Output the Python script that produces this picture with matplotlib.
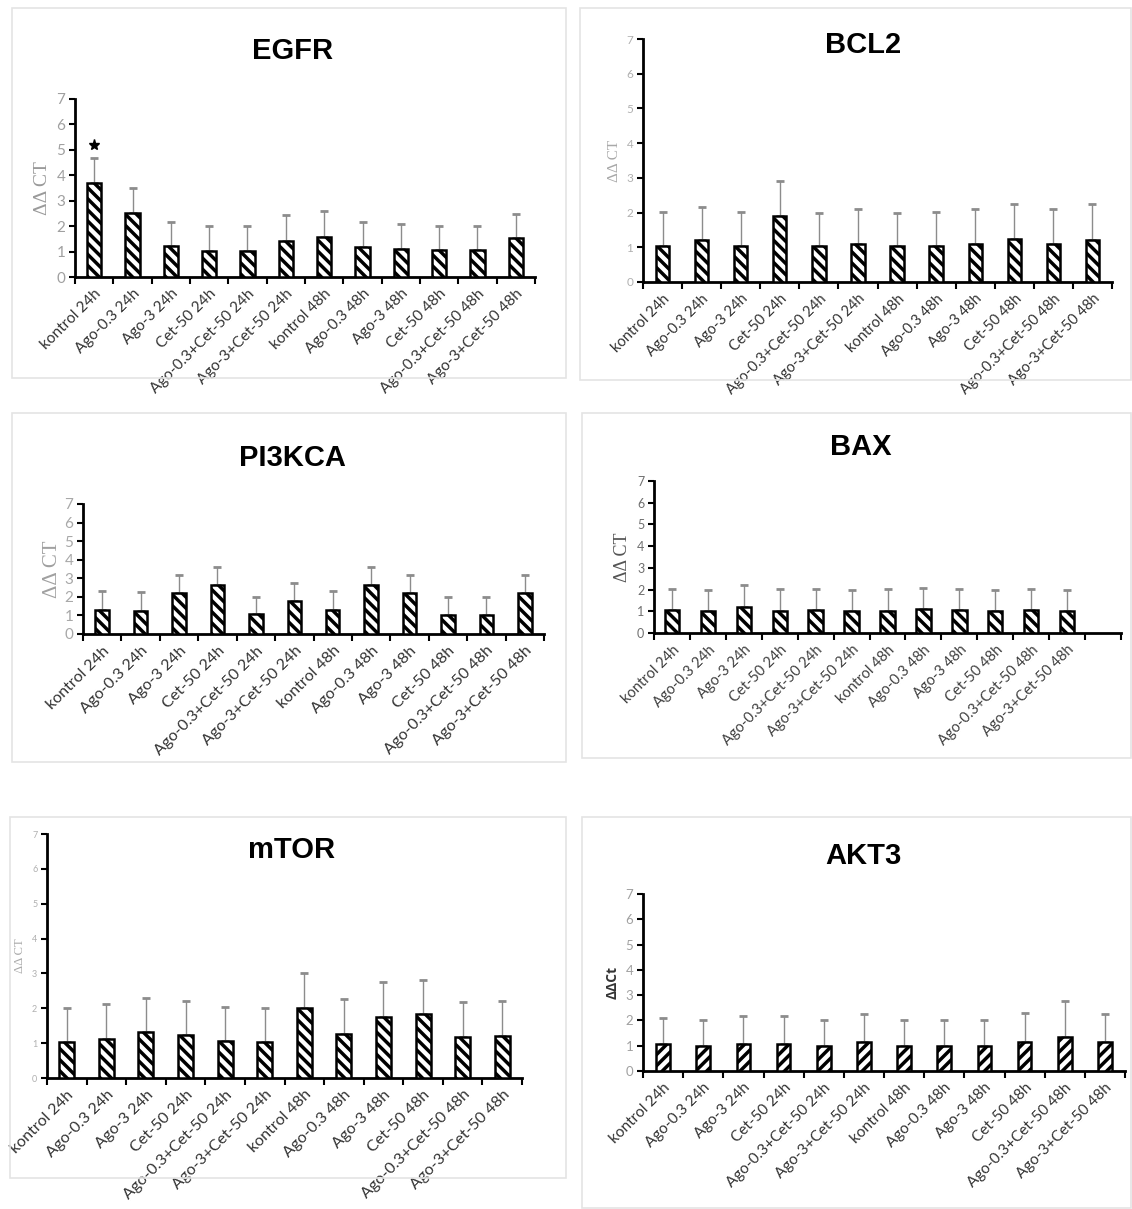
import matplotlib
matplotlib.use("Agg")
import matplotlib.pyplot as plt
from matplotlib.patches import Rectangle
from matplotlib.ticker import FixedLocator, NullFormatter

plt.rcParams["hatch.linewidth"] = 2.5
plt.rcParams["font.family"] = ["Lato", "DejaVu Sans"]

categories = [
    "kontrol 24h", "Ago-0.3 24h", "Ago-3 24h", "Cet-50 24h",
    "Ago-0.3+Cet-50 24h", "Ago-3+Cet-50 24h", "kontrol 48h",
    "Ago-0.3 48h", "Ago-3 48h", "Cet-50 48h", "Ago-0.3+Cet-50 48h",
    "Ago-3+Cet-50 48h",
]

egfr_mean = [3.70, 2.50, 1.22, 1.04, 1.04, 1.43, 1.57, 1.18, 1.09, 1.05, 1.05, 1.52]
egfr_sd = [0.99, 0.99, 0.96, 0.98, 0.98, 1.02, 1.03, 0.97, 0.98, 0.97, 0.97, 0.97]

bcl2_mean = [1.05, 1.20, 1.03, 1.91, 1.03, 1.10, 1.03, 1.03, 1.10, 1.25, 1.10, 1.22]
bcl2_sd = [0.98, 0.96, 1.00, 0.99, 0.97, 0.99, 0.97, 1.00, 0.99, 1.00, 0.99, 1.03]

pi3kca_mean = [1.30, 1.25, 2.20, 2.65, 1.05, 1.75, 1.28, 2.62, 2.20, 1.00, 1.00, 2.20]
pi3kca_sd = [1.02, 1.00, 0.98, 0.98, 0.93, 0.98, 1.02, 0.98, 0.98, 0.98, 0.98, 0.98]

bax_mean = [1.07, 1.03, 1.19, 1.03, 1.07, 1.03, 1.03, 1.10, 1.07, 1.03, 1.07, 1.03]
bax_sd = [0.95, 0.96, 1.00, 0.99, 0.95, 0.96, 0.99, 0.97, 0.95, 0.96, 0.95, 0.96]

mtor_mean = [1.03, 1.12, 1.32, 1.23, 1.05, 1.03, 2.02, 1.27, 1.76, 1.84, 1.19, 1.20]
mtor_sd = [0.98, 1.01, 0.98, 0.99, 0.98, 0.98, 1.00, 1.00, 0.98, 0.97, 1.00, 1.00]

akt3_mean = [1.06, 1.00, 1.07, 1.07, 1.00, 1.14, 1.00, 1.00, 1.00, 1.16, 1.36, 1.14]
akt3_sd = [1.03, 1.00, 1.11, 1.11, 1.02, 1.12, 1.02, 1.02, 1.00, 1.15, 1.39, 1.12]

yticks = [0, 1, 2, 3, 4, 5, 6, 7]

W, H = 1132, 1209
fig = plt.figure(figsize=(W / 100, H / 100), dpi=100)
fig.patch.set_facecolor("white")

# light frames around each panel (pixel boxes: x0, y0, x1, y1)
frames = [
    (12, 8, 566, 378), (580, 8, 1131, 380),
    (12, 413, 566, 762), (582, 413, 1131, 758),
    (10, 817, 566, 1178), (582, 817, 1131, 1208),
]
for x0, y0, x1, y1 in frames:
    fig.patches.append(Rectangle((x0 / W, 1 - y1 / H), (x1 - x0) / W, (y1 - y0) / H,
                                 transform=fig.transFigure, fill=False,
                                 edgecolor="#e4e4e4", linewidth=1.2))


def panel(title, mean, sd, box, title_xy, hatch="\\\\\\", slots=12, bar_w=0.36,
          tick_fs=10.5, tick_color="#a0a0a0", xlab_fs=10.5, xlab_color="#333333",
          ylabel="ΔΔ CT", ylab_font=("Liberation Serif",), ylab_fs=14,
          ylab_color="#9a9a9a", ylab_weight="normal", ylab_pad=4, star=False):
    x0, x1, ybase, ytop = box
    ax = fig.add_axes([x0 / W, 1 - ybase / H, (x1 - x0) / W, (ybase - ytop) / H])
    ax.set_facecolor("none")
    xs = list(range(len(mean)))
    ax.bar(xs, mean, width=bar_w, color="white", edgecolor="black",
           linewidth=1.8, hatch=hatch, zorder=3)
    err = ax.errorbar(xs, mean, yerr=[[0] * len(sd), sd], fmt="none",
                      ecolor="#8c8c8c", elinewidth=1.0, capsize=3.2,
                      capthick=2.0, zorder=2)
    for cap in err[1]:
        cap.set_color("#3a3a3a")
    if star:
        ax.plot([0], [mean[0] + sd[0] + 0.5], marker="*", color="black",
                markersize=8, zorder=4)
    ax.set_xlim(-0.5, slots - 0.5)
    ax.set_ylim(0, 7)
    for s in ("top", "right"):
        ax.spines[s].set_visible(False)
    for s in ("left", "bottom"):
        ax.spines[s].set_linewidth(2.0)
        ax.spines[s].set_color("black")
    ax.set_yticks(yticks)
    ax.set_yticklabels([str(v) for v in yticks], fontsize=tick_fs, color=tick_color)
    ax.tick_params(axis="y", direction="out", length=4, width=1.5, color="black", pad=3)
    ax.set_xticks(xs)
    ax.set_xticklabels(categories, rotation=45, ha="right", rotation_mode="anchor",
                       fontsize=xlab_fs, color=xlab_color)
    ax.tick_params(axis="x", which="major", length=0, pad=7)
    ax.xaxis.set_minor_locator(FixedLocator([i - 0.5 for i in range(slots + 1)]))
    ax.xaxis.set_minor_formatter(NullFormatter())
    ax.tick_params(axis="x", which="minor", direction="out", length=5, width=1.5,
                   color="black")
    ax.set_ylabel(ylabel, fontsize=ylab_fs, color=ylab_color, fontweight=ylab_weight,
                  family=list(ylab_font) + ["DejaVu Sans"], labelpad=ylab_pad)
    fig.text(title_xy[0] / W, 1 - title_xy[1] / H, title, ha="center", va="center",
             fontsize=21, fontweight="bold", family=["Liberation Sans"], color="black")
    return ax


panel("EGFR", egfr_mean, egfr_sd, (75, 535, 277, 99), (293, 51), star=True,
      bar_w=0.37, tick_fs=11, xlab_fs=11, ylab_fs=14)
panel("BCL2", bcl2_mean, bcl2_sd, (643, 1112, 282, 39), (863, 45),
      bar_w=0.34, tick_fs=8.5, tick_color="#b0b0b0", xlab_fs=10.5, ylab_fs=11,
      ylab_color="#a8a8a8")
panel("PI3KCA", pi3kca_mean, pi3kca_sd, (83, 544, 634, 504), (292, 458),
      bar_w=0.35, tick_fs=11, tick_color="#a8a8a8", xlab_fs=11.5, ylab_fs=15,
      ylab_color="#a0a0a0", ylab_pad=2)
panel("BAX", bax_mean, bax_sd, (654, 1121, 633, 481), (861, 447), slots=13,
      bar_w=0.4, tick_fs=9, tick_color="#707070", xlab_fs=10.5, xlab_color="#404040",
      ylab_fs=13, ylab_color="#555555")
panel("mTOR", mtor_mean, mtor_sd, (47, 522, 1078, 834), (292, 850),
      bar_w=0.38, tick_fs=6.5, tick_color="#b0b0b0", xlab_fs=11.5, ylab_fs=9,
      ylab_color="#a8a8a8")
panel("AKT3", akt3_mean, akt3_sd, (643, 1125, 1071, 894), (863, 856), hatch="///",
      bar_w=0.34, tick_fs=9.5, tick_color="#a0a0a0", xlab_fs=11,
      ylabel="ΔΔCt", ylab_font=("Open Sans",), ylab_fs=10, ylab_color="#333333",
      ylab_weight="bold")

fig.savefig("out.png", dpi=100, facecolor="white")
